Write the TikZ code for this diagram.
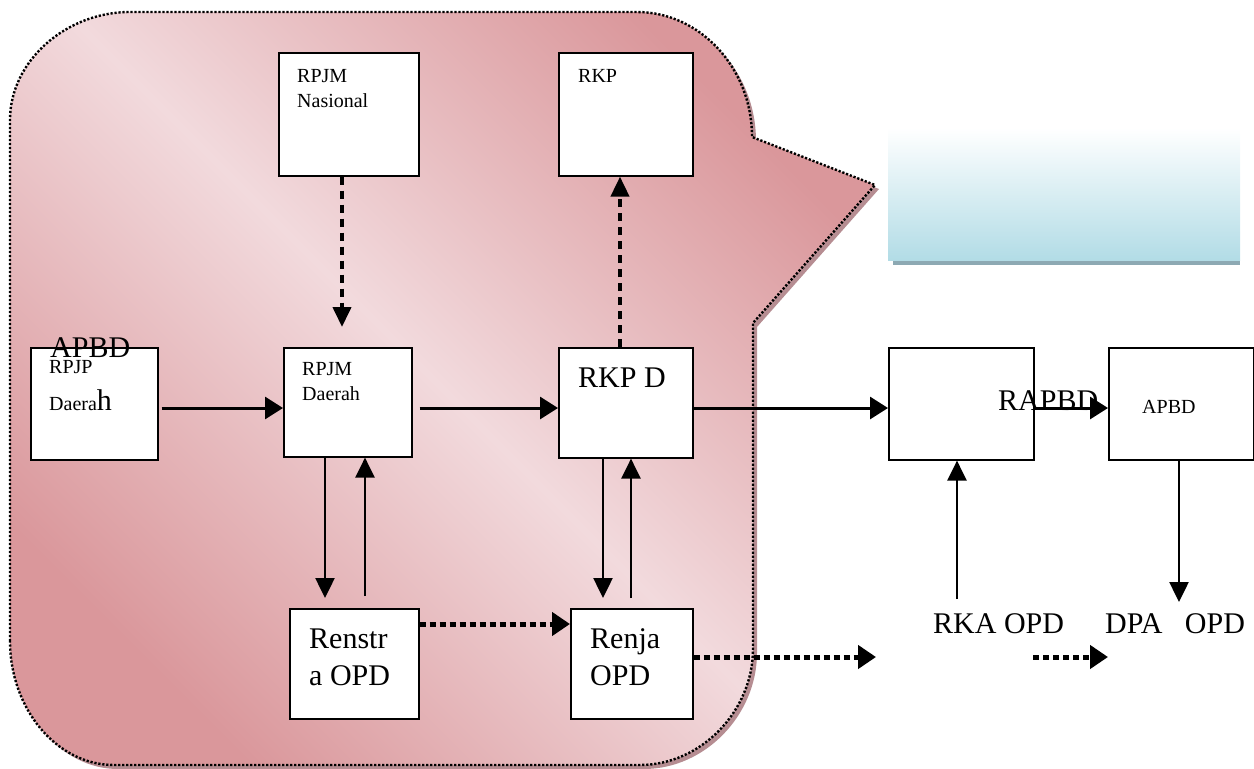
\documentclass[tikz,border=0pt]{standalone}
\usepackage{fontspec}
\setmainfont{Liberation Serif}
\usetikzlibrary{arrows.meta}
\definecolor{pinkdark}{HTML}{DA979B}
\definecolor{pinklight}{HTML}{F2DADD}
\definecolor{pinkshadow}{HTML}{B68D92}
\definecolor{bluelow}{HTML}{B2DCE6}
\definecolor{blueshadow}{HTML}{8DA9B3}
\tikzset{
  box/.style={draw=black, line width=1.6pt, fill=white, inner sep=0pt, anchor=north west},
  small/.style={inner sep=0pt, anchor=base west, font=\fontsize{20}{24}\selectfont},
  big/.style={inner sep=0pt, anchor=base west, font=\fontsize{30}{36}\selectfont},
  arr/.style={line width=3pt, -{Triangle[length=18pt,width=22pt]}},
  thinarr/.style={line width=2.5pt, -{Triangle[length=20pt,width=19pt]}},
  dasharr/.style={line width=4pt, dash pattern=on 8pt off 6pt, -{Triangle[length=20pt,width=18pt]}},
  dotarr/.style={line width=5pt, dash pattern=on 6pt off 4pt, -{Triangle[length=18pt,width=23pt]}},
}
\begin{document}
\begin{tikzpicture}[x=1pt,y=-1pt]
\useasboundingbox (0,0) rectangle (1254,769);
% callout shadow
\fill[pinkshadow] (14,645) -- (14,124) .. controls (14,65) and (70,16) .. (134,16) -- (641,16)
  .. controls (704,16) and (756,72) .. (756,141) -- (879,189) -- (757,327) -- (757,653)
  .. controls (757,715) and (705,769) .. (644,769) -- (118,769) .. controls (60,769) and (14,712) .. (14,645) -- cycle;
% callout body
\path[shade, top color=pinkdark, bottom color=pinkdark, middle color=pinklight, shading angle=-45]
  (10,641) -- (10,120) .. controls (10,61) and (66,12) .. (130,12) -- (637,12)
  .. controls (700,12) and (752,68) .. (752,137) -- (875,185) -- (753,323) -- (753,649)
  .. controls (753,711) and (701,765) .. (640,765) -- (114,765) .. controls (56,765) and (10,708) .. (10,641) -- cycle;
\draw[line width=2.4pt, dash pattern=on 2.2pt off 1.8pt]
  (10,641) -- (10,120) .. controls (10,61) and (66,12) .. (130,12) -- (637,12)
  .. controls (700,12) and (752,68) .. (752,137) -- (875,185) -- (753,323) -- (753,649)
  .. controls (753,711) and (701,765) .. (640,765) -- (114,765) .. controls (56,765) and (10,708) .. (10,641) -- cycle;
% blue box
\fill[blueshadow] (893,133) rectangle (1240,265);
\path[shade, top color=white, bottom color=bluelow] (888,128) rectangle (1240,260);
% boxes
\node[box, minimum width=127pt, minimum height=112pt] (rpjp) at (30,347) {};
\node[box, minimum width=128pt, minimum height=109pt] (rpjmd) at (283,347) {};
\node[box, minimum width=140pt, minimum height=123pt] (rpjmn) at (278,52) {};
\node[box, minimum width=134pt, minimum height=123pt] (rkp) at (558,52) {};
\node[box, minimum width=134pt, minimum height=110pt] (rkpd) at (558,347) {};
\node[box, minimum width=145pt, minimum height=112pt] (rapbdbox) at (888,347) {};
\node[box, minimum width=145pt, minimum height=112pt] (apbdbox) at (1108,347) {};
\node[box, minimum width=129pt, minimum height=110pt] (renstra) at (289,608) {};
\node[box, minimum width=122pt, minimum height=110pt] (renja) at (570,608) {};
% texts
\node[big] (tapbd1) at (50,357) {APBD};
\node[small] (trpjp) at (49,373) {RPJP};
\node[small] (tdaerah1) at (49,410) {Daera{\fontsize{30}{36}\selectfont h}};
\node[small] (trpjmd) at (302,375) {RPJM};
\node[small] (tdaerah2) at (302,400) {Daerah};
\node[small] (trpjmn) at (297,82) {RPJM};
\node[small] (tnas) at (297,107) {Nasional};
\node[small] (trkp) at (578,82) {RKP};
\node[big] (trkpd) at (578,387) {RKP D};
\node[big] (trenstr) at (309,648) {Renstr};
\node[big] (taopd) at (309,685) {a OPD};
\node[big] (trenja) at (590,648) {Renja};
\node[big] (topd) at (590,685) {OPD};
\node[big] (trapbd) at (998,410) {RAPBD};
\node[small] (tapbd2) at (1142,413) {APBD};
\node[big] (trka) at (933,633) {RKA OPD};
\node[big] (tdpa) at (1105,633) {DPA\ \ \ OPD};
% helper coordinates
\coordinate (r1) at (0,408);
\coordinate (r2) at (0,624);
\coordinate (r3) at (0,657);
\coordinate (c342) at (342,0);
\coordinate (c620) at (620,0);
\coordinate (c325) at (325,0);
\coordinate (c365) at (365,0);
\coordinate (c603) at (603,0);
\coordinate (c631) at (631,0);
\coordinate (c957) at (957,0);
\coordinate (c1179) at (1179,0);
\coordinate (nasend) at (342,327);
\coordinate (dn1end) at (325,598);
\coordinate (up1start) at (365,596);
\coordinate (dn2end) at (603,598);
\coordinate (up2start) at (631,598);
\coordinate (rkastart) at (957,599);
\coordinate (dpaend) at (1179,602);
\coordinate (dotend1) at (876,657);
\coordinate (dotstart2) at (1033,657);
\coordinate (dotend2) at (1108,657);
% connectors
\draw[arr] (rpjp.east |- r1) ++(3,0) -- (rpjmd.west |- r1);
\draw[arr] (rpjmd.east |- r1) ++(7,0) -- (rkpd.west |- r1);
\draw[arr] (rkpd.east |- r1) -- (rapbdbox.west |- r1);
\draw[arr] (rapbdbox.east |- r1) -- (apbdbox.west |- r1);
\draw[dasharr] (c342 |- rpjmn.south) -- (nasend);
\draw[dasharr] (c620 |- rkpd.north) -- (c620 |- rkp.south);
\draw[thinarr] (c325 |- rpjmd.south) -- (dn1end);
\draw[thinarr] (up1start) -- (c365 |- rpjmd.south);
\draw[thinarr] (c603 |- rkpd.south) -- (dn2end);
\draw[thinarr] (up2start) -- (c631 |- rkpd.south);
\draw[dotarr] (renstra.east |- r2) -- (renja.west |- r2);
\draw[dotarr] (renja.east |- r3) -- (dotend1);
\draw[dotarr] (dotstart2) -- (dotend2);
\draw[thinarr] (rkastart) -- (c957 |- rapbdbox.south);
\draw[thinarr] (c1179 |- apbdbox.south) -- (dpaend);
\end{tikzpicture}
\end{document}
